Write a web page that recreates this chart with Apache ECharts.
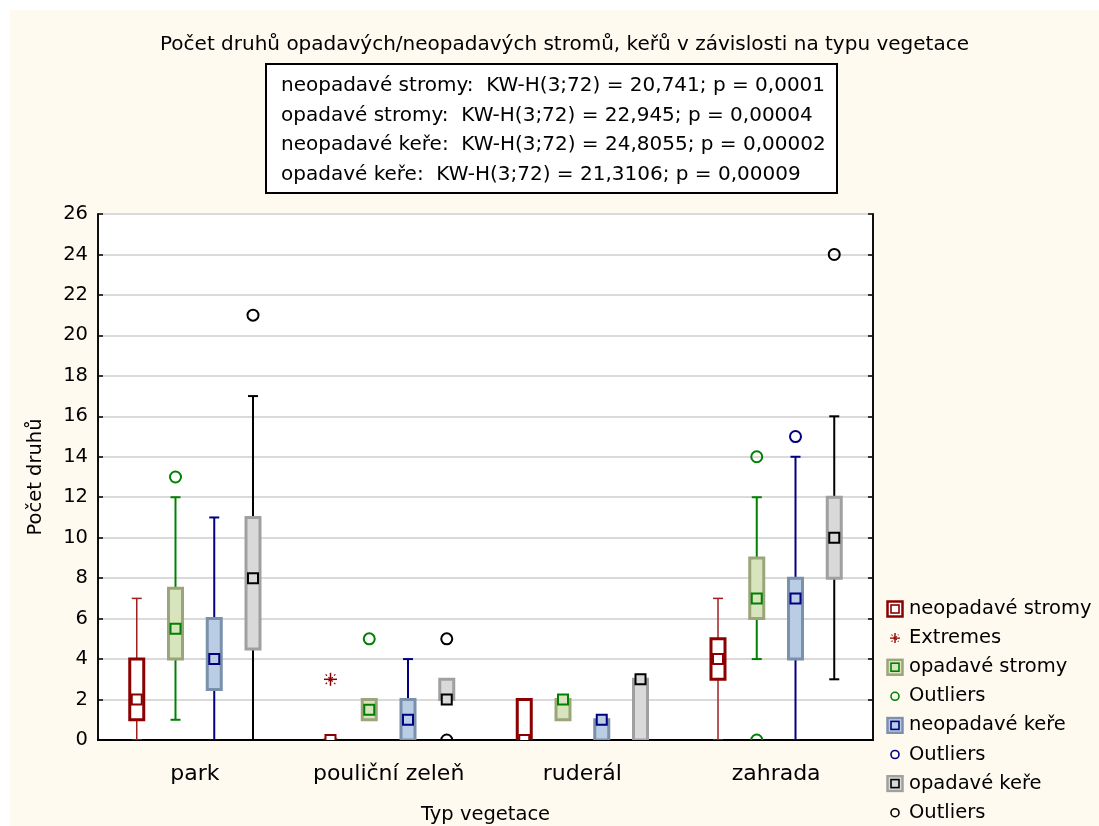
<!DOCTYPE html>
<html>
<head>
<meta charset="utf-8">
<script src="https://cdn.jsdelivr.net/npm/echarts@6/dist/echarts.min.js"></script>
<style>
  html, body { margin: 0; padding: 0; background: #fff; }
  #chart { position: absolute; left: 10px; top: 10px; width: 1089px; height: 816px; }
</style>
</head>
<body>
<div id="chart"></div>
<script>
// kategorie (osa x)
const categories = ['park', 'pouliční zeleň', 'ruderál', 'zahrada']
// [min, q1, medián, q3, max] pro každou kategorii
const neopadaveStromy = [[0, 1, 2, 4, 7], [0, 0, 0, 0, 0], [0, 0, 0, 2, 2], [0, 3, 4, 5, 7]]
const opadaveStromy = [[1, 4, 5.5, 7.5, 12], [1, 1, 1.5, 2, 2], [1, 1, 2, 2, 2], [4, 6, 7, 9, 12]]
const neopadaveKere = [[0, 2.5, 4, 6, 11], [0, 0, 1, 2, 4], [0, 0, 1, 1, 1], [0, 4, 7, 8, 14]]
const opadaveKere = [[0, 4.5, 8, 11, 17], [2, 2, 2, 3, 3], [0, 0, 3, 3, 3], [3, 8, 10, 12, 16]]
// odlehlé hodnoty: [index kategorie, hodnota]
const extremesNS = [[1, 3]]
const outliersOS = [[0, 13], [1, 5], [3, 14], [3, 0]]
const outliersNK = [[3, 15]]
const outliersOK = [[0, 21], [1, 5], [1, 0], [3, 24]]
// osa y
const yMin = 0
const yMax = 26
const yStep = 2

const titleText = 'Počet druhů opadavých/neopadavých stromů, keřů v závislosti na typu vegetace'
const statLines = [
  'neopadavé stromy:  KW-H(3;72) = 20,741; p = 0,0001',
  'opadavé stromy:  KW-H(3;72) = 22,945; p = 0,00004',
  'neopadavé keře:  KW-H(3;72) = 24,8055; p = 0,00002',
  'opadavé keře:  KW-H(3;72) = 21,3106; p = 0,00009'
]

const FONT = 'DejaVu Sans'

const styles = {
  ns: { fill: '#ffffff', border: '#8b0000', line: '#a02020', lineWidth: 1.5, mark: '#8b0000', offset: -0.3 },
  os: { fill: '#d7e4bd', border: '#9aa57a', line: '#008000', lineWidth: 2, mark: '#008000', offset: -0.1 },
  nk: { fill: '#b9cde5', border: '#7b90aa', line: '#000080', lineWidth: 2, mark: '#000080', offset: 0.1 },
  ok: { fill: '#d9d9d9', border: '#a0a0a0', line: '#000000', lineWidth: 2, mark: '#000000', offset: 0.3 }
}

function toBoxData(rows) {
  return rows.map((r, i) => [i].concat(r))
}

// vykreslení jednoho boxu (whisker, box, čtvereček mediánu)
function boxRenderer(st) {
  return function(params, api) {
    const cat = api.value(0)
    const band = api.size([1, 0])[0]
    const cx = api.coord([cat, 0])[0] + band * st.offset
    const y = v => api.coord([cat, v])[1]
    const min = api.value(1), q1 = api.value(2), med = api.value(3), q3 = api.value(4), max = api.value(5)
    const w = 14
    const cap = 5
    const children = []
    const ls = { stroke: st.line, lineWidth: st.lineWidth }
    if (min < q1) {
      children.push({ type: 'line', shape: { x1: cx, y1: y(min), x2: cx, y2: y(q1) }, style: ls })
      children.push({ type: 'line', shape: { x1: cx - cap, y1: y(min), x2: cx + cap, y2: y(min) }, style: ls })
    }
    if (max > q3) {
      children.push({ type: 'line', shape: { x1: cx, y1: y(q3), x2: cx, y2: y(max) }, style: ls })
      children.push({ type: 'line', shape: { x1: cx - cap, y1: y(max), x2: cx + cap, y2: y(max) }, style: ls })
    }
    children.push({
      type: 'rect',
      shape: { x: cx - w / 2, y: y(q3), width: w, height: y(q1) - y(q3) },
      style: { fill: st.fill, stroke: st.border, lineWidth: 3 }
    })
    children.push({
      type: 'rect',
      shape: { x: cx - 5, y: y(med) - 5, width: 10, height: 10 },
      style: { fill: st.fill, stroke: st.mark, lineWidth: 2 }
    })
    return { type: 'group', children: children }
  }
}

function pointRenderer(st, kind) {
  return function(params, api) {
    const cat = api.value(0)
    const band = api.size([1, 0])[0]
    const p = api.coord([cat, api.value(1)])
    const cx = p[0] + band * st.offset
    const cy = p[1]
    if (kind === 'star') {
      const r = 6.5
      const d = r * 0.75
      return {
        type: 'group',
        children: [
          { type: 'line', shape: { x1: cx - r, y1: cy, x2: cx + r, y2: cy }, style: { stroke: st.mark, lineWidth: 1.5 } },
          { type: 'line', shape: { x1: cx, y1: cy - r, x2: cx, y2: cy + r }, style: { stroke: st.mark, lineWidth: 1.5 } },
          { type: 'line', shape: { x1: cx - d, y1: cy - d, x2: cx + d, y2: cy + d }, style: { stroke: st.mark, lineWidth: 1.2, lineDash: [2, 2] } },
          { type: 'line', shape: { x1: cx - d, y1: cy + d, x2: cx + d, y2: cy - d }, style: { stroke: st.mark, lineWidth: 1.2, lineDash: [2, 2] } }
        ]
      }
    }
    return {
      type: 'circle',
      shape: { cx: cx, cy: cy, r: 5.5 },
      style: { fill: 'none', stroke: st.mark, lineWidth: 2 }
    }
  }
}

function svgIcon(body) {
  return 'image://data:image/svg+xml;charset=utf-8,' + encodeURIComponent(
    '<svg xmlns="http://www.w3.org/2000/svg" width="18" height="18" viewBox="0 0 18 18">' + body + '</svg>')
}
function boxIcon(st) {
  return svgIcon('<rect x="1.5" y="1.5" width="15" height="15" fill="' + st.fill + '" stroke="' + st.border + '" stroke-width="2.5"/>' +
    '<rect x="5" y="5" width="8" height="8" fill="none" stroke="' + st.mark + '" stroke-width="1.6"/>')
}
function circleIcon(color) {
  return svgIcon('<circle cx="9" cy="9" r="4" fill="none" stroke="' + color + '" stroke-width="1.6"/>')
}
function starIcon(color) {
  return svgIcon('<path d="M4 9H14M9 4V14" stroke="' + color + '" stroke-width="1.4"/>' +
    '<path d="M5.5 5.5L12.5 12.5M5.5 12.5L12.5 5.5" stroke="' + color + '" stroke-width="1.1" stroke-dasharray="1.5,1.5"/>')
}

function boxSeries(name, rows, st) {
  return {
    name: name, type: 'custom', clip: true,
    renderItem: boxRenderer(st),
    encode: { x: 0, y: [1, 2, 3, 4, 5] },
    data: toBoxData(rows)
  }
}
function pointSeries(name, points, st, kind) {
  return {
    name: name, type: 'custom', clip: true,
    renderItem: pointRenderer(st, kind),
    encode: { x: 0, y: 1 },
    data: points
  }
}

const chart = echarts.init(document.getElementById('chart'))
const option = {
  animation: false,
  backgroundColor: '#fffaf0',
  textStyle: { fontFamily: FONT },
  title: {
    text: titleText,
    left: 145,
    top: 20,
    textStyle: { fontFamily: FONT, fontSize: 20, fontWeight: 'normal', color: '#000' }
  },
  graphic: [
    {
      type: 'rect', left: 255, top: 53,
      shape: { width: 571, height: 129 },
      style: { fill: '#fff', stroke: '#000', lineWidth: 2 }
    },
    {
      type: 'text', left: 271, top: 61.5,
      style: { text: statLines.join('\n'), font: '20px "DejaVu Sans"', lineHeight: 29.5, fill: '#000' }
    }
  ],
  legend: {
    orient: 'vertical',
    left: 871,
    top: 584,
    height: 300,
    itemWidth: 18,
    itemHeight: 18,
    itemGap: 9.1,
    selectedMode: false,
    textStyle: { fontFamily: FONT, fontSize: 19.5, color: '#000' },
    formatter: name => name.replace(/#\d$/, ''),
    data: [
      { name: 'neopadavé stromy', icon: boxIcon(styles.ns) },
      { name: 'Extremes', icon: starIcon(styles.ns.mark) },
      { name: 'opadavé stromy', icon: boxIcon(styles.os) },
      { name: 'Outliers#1', icon: circleIcon(styles.os.mark) },
      { name: 'neopadavé keře', icon: boxIcon(styles.nk) },
      { name: 'Outliers#2', icon: circleIcon(styles.nk.mark) },
      { name: 'opadavé keře', icon: boxIcon(styles.ok) },
      { name: 'Outliers#3', icon: circleIcon(styles.ok.mark) }
    ]
  },
  grid: {
    left: 88, right: 226, top: 204, bottom: 86,
    outerBoundsMode: 'none',
    containLabel: false,
    show: true, backgroundColor: '#ffffff', borderColor: '#000', borderWidth: 1.5
  },
  xAxis: [
    {
      type: 'category',
      data: categories,
      name: 'Typ vegetace',
      nameLocation: 'middle',
      nameGap: 65,
      nameTextStyle: { fontFamily: FONT, fontSize: 19.5, color: '#000' },
      axisLine: { lineStyle: { color: '#000', width: 2 } },
      axisTick: { inside: true, alignWithLabel: true, length: 5, lineStyle: { color: '#000', width: 1.5 } },
      axisLabel: { interval: 0, fontFamily: FONT, fontSize: 22, color: '#000', margin: 23 },
      splitLine: { show: false }
    },
    {
      type: 'category',
      data: categories,
      position: 'top',
      axisLine: { lineStyle: { color: '#000', width: 1.5 } },
      axisTick: { inside: true, alignWithLabel: true, interval: 0, length: 5, lineStyle: { color: '#000', width: 1.5 } },
      axisLabel: { show: false },
      splitLine: { show: false }
    }
  ],
  yAxis: [
    {
      type: 'value',
      min: yMin, max: yMax, interval: yStep,
      name: 'Počet druhů',
      nameLocation: 'middle',
      nameGap: 52,
      nameTextStyle: { fontFamily: FONT, fontSize: 19.5, color: '#000' },
      axisLine: { show: true, lineStyle: { color: '#000', width: 1.5 } },
      axisTick: { show: true, inside: true, length: 5, lineStyle: { color: '#000', width: 1.5 } },
      axisLabel: { fontFamily: FONT, fontSize: 19.5, color: '#000', margin: 10 },
      splitLine: { show: true, lineStyle: { color: '#dadada', width: 2 } }
    },
    {
      type: 'value',
      min: yMin, max: yMax, interval: yStep,
      position: 'right',
      axisLine: { show: true, lineStyle: { color: '#000', width: 1.5 } },
      axisTick: { show: true, inside: true, length: 5, lineStyle: { color: '#000', width: 1.5 } },
      axisLabel: { show: false },
      splitLine: { show: false }
    }
  ],
  series: [
    boxSeries('neopadavé stromy', neopadaveStromy, styles.ns),
    pointSeries('Extremes', extremesNS, styles.ns, 'star'),
    boxSeries('opadavé stromy', opadaveStromy, styles.os),
    pointSeries('Outliers#1', outliersOS, styles.os, 'circle'),
    boxSeries('neopadavé keře', neopadaveKere, styles.nk),
    pointSeries('Outliers#2', outliersNK, styles.nk, 'circle'),
    boxSeries('opadavé keře', opadaveKere, styles.ok),
    pointSeries('Outliers#3', outliersOK, styles.ok, 'circle')
  ]
}
chart.setOption(option)
</script>
</body>
</html>
